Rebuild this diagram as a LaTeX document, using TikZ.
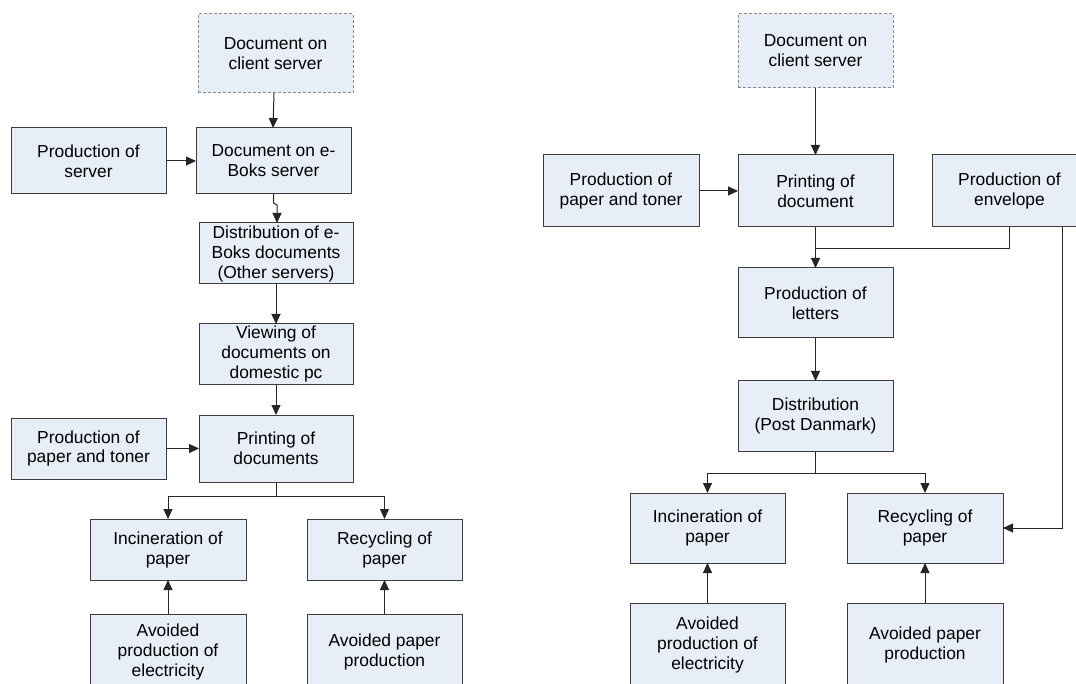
\documentclass[tikz,border=0pt]{standalone}
\usepackage{fontspec}
\setmainfont{Liberation Sans}
\usetikzlibrary{arrows.meta}
\definecolor{boxfill}{HTML}{E8EEF7}
\definecolor{boxline}{HTML}{3C3C3C}
\definecolor{dashline}{HTML}{8A8A8A}
\begin{document}
\begin{tikzpicture}[x=1pt,y=-1pt,
  box/.style={draw=boxline,fill=boxfill,line width=1pt,inner sep=0pt,outer sep=0pt,
    align=center,font=\fontsize{17.4}{20}\selectfont},
  dbox/.style={box,draw=dashline,dash pattern=on 3pt off 2pt},
  arr/.style={draw=black!85,line width=1pt,-{Triangle[length=10pt,width=9pt]}},
  ln/.style={draw=black!85,line width=1pt}]
\useasboundingbox (0,0) rectangle (1076,684);
\clip (0,0) rectangle (1076,684);
\fill[white] (0,0) rectangle (1076,684);
% ---------- left diagram ----------
\node[dbox,minimum width=155pt,minimum height=79pt] (client1) at (275.5,53.5) {Document on\\client server};
\node[box,minimum width=155pt,minimum height=66pt] (server) at (88.5,161) {Production of\\server};
\node[box,minimum width=155pt,minimum height=66pt] (eboks) at (273.5,161) {Document on e-\\Boks server};
\node[box,minimum width=154pt,minimum height=61pt] (dist1) at (276,253.5) {Distribution of e-\\Boks documents\\(Other servers)};
\node[box,minimum width=154pt,minimum height=61pt] (view1) at (276,354.5) {Viewing of\\documents on\\domestic pc};
\node[box,minimum width=154pt,minimum height=67pt] (print1) at (276,448.5) {Printing of\\documents};
\node[box,minimum width=155pt,minimum height=61pt] (paper1) at (88.5,448.5) {Production of\\paper and toner};
\node[box,minimum width=156pt,minimum height=61pt] (incin1) at (168,549.5) {Incineration of\\paper};
\node[box,minimum width=155pt,minimum height=61pt] (recyc1) at (384.5,549.5) {Recycling of\\paper};
\node[box,minimum width=156pt,minimum height=76pt] (avel1) at (168,652) {Avoided\\production of\\electricity};
\node[box,minimum width=155pt,minimum height=76pt] (avpa1) at (384.5,652) {Avoided paper\\production};
\coordinate (j1) at (276,496);
\draw[arr] ([xshift=-1.5pt]client1.south) -- ([xshift=-0.5pt]eboks.north);
\draw[arr] (server.east) -- (eboks.west);
\draw[arr] (eboks.south) -- ++(0,9) -- ++(3.5,2) -- ([xshift=1pt]dist1.north);
\draw[arr] (dist1.south) -- (view1.north);
\draw[arr] (view1.south) -- (print1.north);
\draw[arr] (paper1.east) -- (print1.west);
\draw[ln] (print1.south) -- (j1);
\draw[arr] (j1) -| (incin1.north);
\draw[arr] (j1) -| (recyc1.north);
\draw[arr] (avel1.north) -- (incin1.south);
\draw[arr] (avpa1.north) -- (recyc1.south);
% ---------- right diagram ----------
\node[dbox,minimum width=155pt,minimum height=74pt] (client2) at (815.5,51) {Document on\\client server};
\node[box,minimum width=156pt,minimum height=72pt] (paper2) at (621,191) {Production of\\paper and toner};
\node[box,minimum width=155pt,minimum height=72pt] (print2) at (815.5,191) {Printing of\\document};
\node[box,minimum width=155pt,minimum height=72pt] (env) at (1009.5,191) {Production of\\envelope};
\node[box,minimum width=155pt,minimum height=70pt] (letters) at (815.5,303) {Production of\\letters};
\node[box,minimum width=155pt,minimum height=70pt] (distrib) at (815.5,416) {Distribution\\(Post Danmark)};
\node[box,minimum width=155pt,minimum height=70pt] (incin2) at (707.5,528) {Incineration of\\paper};
\node[box,minimum width=156pt,minimum height=70pt] (recyc2) at (925,528) {Recycling of\\paper};
\node[box,minimum width=155pt,minimum height=84pt] (avel2) at (707.5,645) {Avoided\\production of\\electricity};
\node[box,minimum width=156pt,minimum height=84pt] (avpa2) at (925,645) {Avoided paper\\production};
\coordinate (j2) at (815.5,249);
\coordinate (j3) at (815.5,473);
\draw[arr] (client2.south) -- (print2.north);
\draw[arr] (paper2.east) -- (print2.west);
\draw[arr] (print2.south) -- (letters.north);
\draw[ln] ([xshift=-0.5pt]env.south) |- (j2);
\draw[arr] ([xshift=52.5pt]env.south) |- (recyc2.east);
\draw[arr] (letters.south) -- (distrib.north);
\draw[ln] (distrib.south) -- (j3);
\draw[arr] (j3) -| (incin2.north);
\draw[arr] (j3) -| (recyc2.north);
\draw[arr] (avel2.north) -- (incin2.south);
\draw[arr] (avpa2.north) -- (recyc2.south);
\end{tikzpicture}
\end{document}
